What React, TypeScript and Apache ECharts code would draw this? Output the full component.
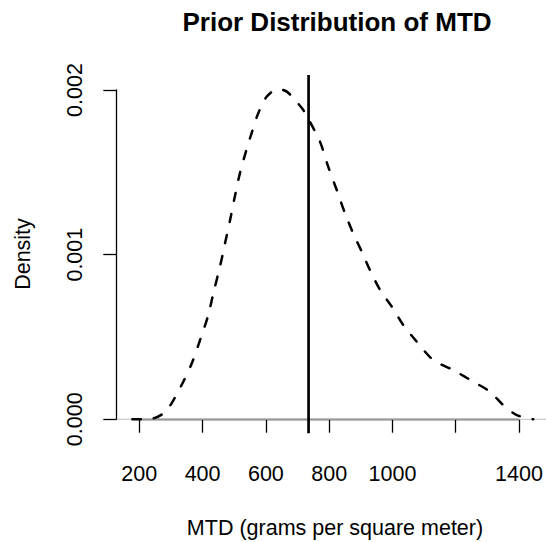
import React, { useEffect, useRef } from "react";
import * as echarts from "echarts";

// Kernel density estimate of the prior MTD (x: grams per square meter, y: density)
const mtdValues = [
  178, 244, 276, 302, 339, 366, 392, 418, 434, 455, 471, 487, 502, 518, 537,
  555, 576, 603, 639, 666, 697, 718, 739, 771, 797, 824, 850, 876, 903, 929,
  961, 998, 1034, 1077, 1129, 1192, 1256, 1308, 1350, 1393, 1445,
];
const densityValues = [
  0.0, 0.000006, 0.000036, 0.000097, 0.000228, 0.00034, 0.000481, 0.000633,
  0.000765, 0.000927, 0.001069, 0.00121, 0.001352, 0.001494, 0.001625,
  0.001737, 0.001858, 0.001959, 0.002005, 0.001989, 0.001928, 0.001878,
  0.001807, 0.001686, 0.001534, 0.001392, 0.001251, 0.001129, 0.001018,
  0.000906, 0.000785, 0.000684, 0.000573, 0.000471, 0.00036, 0.000299,
  0.000228, 0.000168, 0.000087, 0.000026, 0.0,
];

// Reference value marked with a vertical line
const markedMtd = [735];

// Axis ticks
const xTicks = [200, 400, 600, 800, 1000, 1200, 1400];
const xTickLabels = ["200", "400", "600", "800", "1000", "", "1400"];
const yTicks = [0, 0.001, 0.002];
const yTickLabels = ["0.000", "0.001", "0.002"];

// Plot region extents (data units)
const X_MIN = 128.6;
const X_MAX = 1485.4;
const Y_MIN = -0.000085;
const Y_MAX = 0.00209;

const FONT = "'Liberation Sans', Arial, Helvetica, sans-serif";

export default function App() {
  const ref = useRef<HTMLDivElement>(null);

  useEffect(() => {
    if (!ref.current) return;
    const chart = echarts.init(ref.current, undefined, { renderer: "svg" });

    const curve = mtdValues.map((x, i) => [x, densityValues[i]]);

    chart.setOption({
      animation: false,
      backgroundColor: "#ffffff",
      grid: [
        // plotting region
        { left: 116.7, right: 0, top: 75, bottom: 108.7 },
        // axis region spanning the tick range
        { left: 139.3, right: 27, top: 90, bottom: 122.7 },
      ],
      xAxis: [
        {
          gridIndex: 0,
          type: "value",
          min: X_MIN,
          max: X_MAX,
          show: false,
        },
        {
          gridIndex: 1,
          type: "value",
          min: xTicks[0],
          max: xTicks[xTicks.length - 1],
          interval: 200,
          offset: 14,
          axisLine: { show: true, lineStyle: { color: "#000", width: 1.3 } },
          axisTick: {
            show: true,
            inside: false,
            length: 13.4,
            lineStyle: { color: "#000", width: 1.3 },
          },
          axisLabel: {
            show: true,
            margin: 30,
            color: "#000",
            fontFamily: FONT,
            fontSize: 21.5,
            showMinLabel: true,
            showMaxLabel: true,
            formatter: (v: number) => {
              const i = xTicks.indexOf(Math.round(v));
              return i >= 0 ? xTickLabels[i] : "";
            },
          },
          splitLine: { show: false },
        },
      ],
      yAxis: [
        {
          gridIndex: 0,
          type: "value",
          min: Y_MIN,
          max: Y_MAX,
          show: false,
        },
        {
          gridIndex: 1,
          type: "value",
          min: yTicks[0],
          max: yTicks[yTicks.length - 1],
          interval: 0.001,
          offset: 22.6,
          axisLine: { show: true, lineStyle: { color: "#000", width: 1.3 } },
          axisTick: {
            show: true,
            inside: false,
            length: 13.4,
            lineStyle: { color: "#000", width: 1.3 },
          },
          axisLabel: {
            show: true,
            rotate: 90,
            margin: 31,
            color: "#000",
            fontFamily: FONT,
            fontSize: 21.5,
            showMinLabel: true,
            showMaxLabel: true,
            formatter: (v: number) => {
              const i = yTicks.findIndex((t) => Math.abs(t - v) < 1e-9);
              return i >= 0 ? yTickLabels[i] : "";
            },
          },
          splitLine: { show: false },
        },
      ],
      series: [
        {
          name: "zero",
          type: "line",
          xAxisIndex: 0,
          yAxisIndex: 0,
          data: [
            [X_MIN, 0],
            [X_MAX, 0],
          ],
          symbol: "none",
          silent: true,
          lineStyle: { color: "#bebebe", width: 1 },
        },
        {
          name: "density",
          type: "line",
          xAxisIndex: 0,
          yAxisIndex: 0,
          data: curve,
          smooth: 0.3,
          symbol: "none",
          clip: false,
          lineStyle: {
            color: "#000",
            width: 2.5,
            type: [8.5, 13],
            cap: "round",
          },
        },
        {
          name: "marked",
          type: "line",
          xAxisIndex: 0,
          yAxisIndex: 0,
          data: [
            [markedMtd[0], Y_MIN],
            [markedMtd[0], Y_MAX],
          ],
          symbol: "none",
          lineStyle: { color: "#000", width: 2.7 },
        },
      ],
      graphic: [
        {
          type: "text",
          x: 337,
          y: 22,
          style: {
            text: "Prior Distribution of MTD",
            fontFamily: FONT,
            fontWeight: "bold",
            fontSize: 26,
            fill: "#000",
            align: "center",
            verticalAlign: "middle",
          },
        },
        {
          type: "text",
          x: 335,
          y: 528,
          style: {
            text: "MTD (grams per square meter)",
            fontFamily: FONT,
            fontSize: 21.5,
            fill: "#000",
            align: "center",
            verticalAlign: "middle",
          },
        },
        {
          type: "text",
          x: 23,
          y: 254,
          rotation: Math.PI / 2,
          style: {
            text: "Density",
            fontFamily: FONT,
            fontSize: 21.5,
            fill: "#000",
            align: "center",
            verticalAlign: "middle",
          },
        },
      ],
    });

    return () => chart.dispose();
  }, []);

  return (
    <div
      ref={ref}
      style={{ position: "fixed", left: 0, top: 0, width: 546, height: 542 }}
    />
  );
}
